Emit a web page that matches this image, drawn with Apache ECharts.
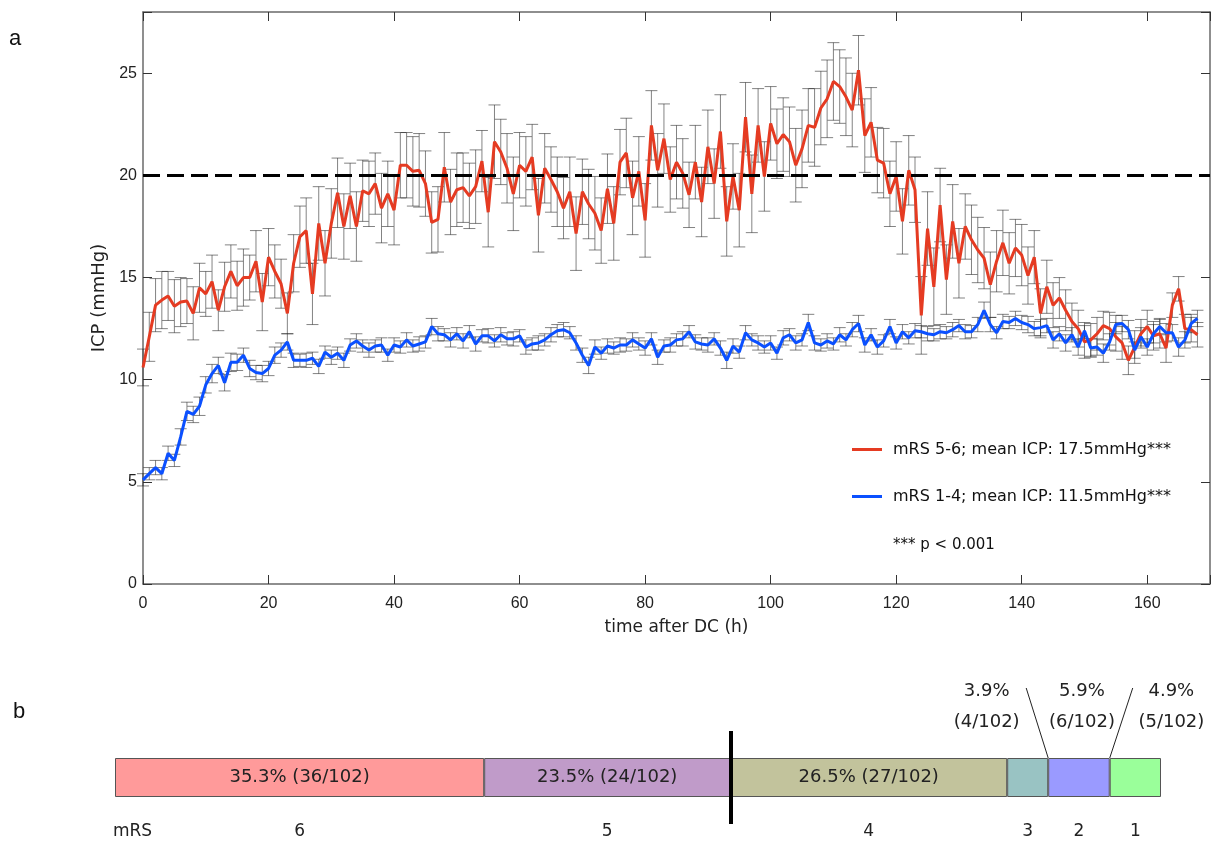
<!DOCTYPE html>
<html><head><meta charset="utf-8">
<script src="https://cdn.jsdelivr.net/npm/echarts@6/dist/echarts.min.js"></script>
<style>html,body{margin:0;padding:0;background:#fff}#c{width:1213px;height:842px}</style>
</head><body><div id="c"></div>
<script>
// ---- data (hourly means, 0..168 h after DC) ----
const redICP = [
 10.6,12.1,13.65,13.9,14.1,13.6,13.8,13.85,13.25,14.5,
 14.2,14.8,13.4,14.55,15.3,14.6,15.0,15.0,15.8,13.8,
 16.0,15.3,14.7,13.25,15.7,17.0,17.3,14.2,17.65,15.7,
 17.65,19.15,17.5,19.0,17.5,19.25,19.1,19.6,18.4,19.1,
 18.3,20.5,20.5,20.2,20.25,19.6,17.7,17.85,20.4,18.7,
 19.3,19.4,19.0,19.45,20.7,18.2,21.65,21.15,20.35,19.1,
 20.5,20.2,20.9,18.05,20.35,19.8,19.2,18.4,19.2,17.15,
 19.2,18.6,18.15,17.3,19.35,17.65,20.65,21.1,18.9,20.2,
 17.8,22.45,20.25,21.8,19.8,20.65,20.1,19.05,20.65,18.7,
 21.4,19.6,22.15,17.75,19.95,18.3,22.85,19.1,22.45,19.95,
 22.55,21.55,22.0,21.65,20.5,21.3,22.45,22.35,23.3,23.75,
 24.6,24.35,23.85,23.2,25.15,21.95,22.6,20.75,20.6,19.1,
 19.95,17.75,20.25,19.3,13.15,17.4,14.55,18.55,14.9,17.75,
 15.7,17.5,16.85,16.35,15.95,14.65,15.8,16.7,15.7,16.45,
 16.1,15.1,16.0,13.25,14.55,13.65,14.0,13.4,12.85,12.5,
 11.85,11.95,12.25,12.65,12.5,12.1,11.8,10.95,11.6,12.25,
 12.6,12.15,12.25,11.55,13.65,14.45,12.5,12.45,12.2];
const blueICP = [
 5.1,5.4,5.7,5.4,6.4,6.05,7.2,8.45,8.3,8.7,
 9.75,10.3,10.7,9.85,10.85,10.85,11.2,10.55,10.35,10.3,
 10.55,11.2,11.45,11.85,10.95,10.95,10.95,11.05,10.65,11.35,
 11.1,11.3,10.95,11.7,11.9,11.65,11.45,11.65,11.7,11.2,
 11.7,11.6,11.95,11.65,11.75,11.85,12.6,12.25,12.2,11.95,
 12.25,11.9,12.35,11.75,12.15,12.15,11.9,12.2,12.0,12.0,
 12.15,11.6,11.75,11.8,11.95,12.2,12.4,12.45,12.3,11.8,
 11.2,10.7,11.6,11.3,11.65,11.55,11.7,11.7,11.95,11.75,
 11.55,12.0,11.1,11.65,11.7,11.95,12.0,12.35,11.85,11.75,
 11.7,12.0,11.55,10.95,11.65,11.35,12.3,11.95,11.8,11.6,
 11.8,11.3,12.05,12.2,11.8,11.95,12.8,11.8,11.7,11.9,
 11.75,12.2,11.95,12.45,12.75,11.7,12.2,11.6,11.9,12.6,
 11.8,12.35,12.05,12.4,12.35,12.25,12.2,12.35,12.3,12.45,
 12.65,12.35,12.35,12.7,13.4,12.7,12.3,12.85,12.8,13.0,
 12.8,12.7,12.5,12.55,12.65,11.95,12.25,11.8,12.2,11.6,
 12.4,11.55,11.6,11.3,11.85,12.7,12.75,12.45,11.45,12.1,
 11.6,12.25,12.6,12.3,12.3,11.6,11.95,12.75,13.0];
const redErr = [
 0.9,1.2,1.3,1.4,1.2,1.3,1.2,1.1,1.3,1.2,
 1.1,1.3,1.0,1.2,1.3,1.2,1.4,1.1,1.5,1.4,
 1.4,1.3,1.2,1.0,1.4,1.5,1.6,1.5,1.8,1.6,
 1.7,1.7,1.6,1.6,1.7,1.5,1.6,1.5,1.7,1.6,
 1.7,1.6,1.6,1.7,1.8,1.6,1.5,1.6,1.7,1.6,
 1.8,1.7,1.6,1.8,1.5,1.7,1.8,1.6,1.7,1.8,
 1.6,1.7,1.6,1.8,1.7,1.6,1.7,1.5,1.7,1.8,
 1.6,1.7,1.8,1.6,1.7,1.8,1.6,1.7,1.8,1.7,
 1.8,1.7,1.8,1.7,1.6,1.8,1.7,1.6,1.8,1.7,
 1.8,1.7,1.8,1.7,1.6,1.8,1.7,1.9,1.8,1.7,
 1.8,1.7,1.8,1.7,1.8,1.9,1.8,1.9,1.8,1.9,
 1.9,1.8,1.9,1.8,1.7,1.8,1.7,1.6,1.7,1.6,
 1.7,1.6,1.7,1.6,1.9,1.8,1.9,1.8,1.7,1.8,
 1.7,1.6,1.7,1.6,1.5,1.6,1.5,1.6,1.5,1.4,
 1.5,1.4,1.3,1.2,1.3,1.1,1.0,1.0,0.9,0.9,
 0.8,0.8,0.8,0.7,0.8,0.7,0.8,0.7,0.8,0.7,
 0.8,0.7,0.7,0.7,0.6,0.6,0.7,0.6,0.6];
const blueErr = [
 0.3,0.3,0.35,0.3,0.35,0.3,0.4,0.45,0.4,0.45,
 0.4,0.45,0.4,0.4,0.45,0.4,0.35,0.4,0.35,0.4,
 0.35,0.4,0.35,0.4,0.35,0.3,0.35,0.3,0.35,0.3,
 0.35,0.3,0.35,0.3,0.35,0.3,0.35,0.3,0.35,0.3,
 0.35,0.3,0.35,0.3,0.35,0.3,0.4,0.35,0.3,0.35,
 0.3,0.35,0.3,0.35,0.3,0.35,0.3,0.35,0.3,0.35,
 0.3,0.35,0.3,0.35,0.3,0.35,0.3,0.35,0.3,0.35,
 0.35,0.4,0.35,0.3,0.35,0.3,0.35,0.3,0.35,0.3,
 0.35,0.3,0.35,0.3,0.35,0.3,0.35,0.3,0.35,0.3,
 0.35,0.3,0.35,0.4,0.35,0.3,0.35,0.3,0.35,0.3,
 0.35,0.3,0.35,0.3,0.35,0.3,0.4,0.35,0.3,0.35,
 0.3,0.35,0.3,0.35,0.4,0.35,0.3,0.35,0.3,0.35,
 0.3,0.35,0.3,0.35,0.3,0.35,0.3,0.35,0.3,0.35,
 0.3,0.35,0.3,0.35,0.4,0.35,0.3,0.35,0.3,0.35,
 0.35,0.4,0.35,0.4,0.35,0.4,0.35,0.4,0.35,0.4,
 0.4,0.45,0.4,0.45,0.4,0.45,0.4,0.45,0.4,0.45,
 0.4,0.45,0.4,0.45,0.4,0.45,0.4,0.45,0.4];
const hours = redICP.map((_, i) => i);
const xTickLabels = [0, 20, 40, 60, 80, 100, 120, 140, 160];
const yTickLabels = [0, 5, 10, 15, 20, 25];
const threshold = 20;
const seriesNames = ['mRS 5-6; mean ICP: 17.5mmHg***', 'mRS 1-4; mean ICP: 11.5mmHg***'];
const pNote = '*** p < 0.001';

const mrsScores = ['6', '5', '4', '3', '2', '1'];
const mrsCounts = [36, 24, 27, 4, 6, 5];
const mrsTotal = 102;
const mrsColors = ['#FF9A9A', '#C09BC9', '#C2C39C', '#99C3C3', '#9A9AFF', '#9AFF9A'];
const mrsSplitAfter = 2; // thick line after first two groups (mRS 6, 5)

// ---- chart ----
const chart = echarts.init(document.getElementById('c'), null, {renderer: 'canvas'});
const FONT = 'Liberation Sans';
const FONT2 = 'DejaVu Sans';
const AX = '#6a6a6a';

function errSeries(vals, errs) {
  return {
    type: 'custom', xAxisIndex: 0, yAxisIndex: 0, z: 1, silent: true,
    data: hours.map((h, i) => [h, vals[i] - errs[i], vals[i] + errs[i]]),
    encode: {x: 0, y: [1, 2]},
    renderItem(params, api) {
      const x = api.value(0);
      const lo = api.coord([x, api.value(1)]);
      const hi = api.coord([x, api.value(2)]);
      const w = 6;
      const style = {stroke: 'rgba(30,30,30,0.55)', lineWidth: 1};
      return {type: 'group', children: [
        {type: 'line', shape: {x1: lo[0], y1: lo[1], x2: hi[0], y2: hi[1]}, style},
        {type: 'line', shape: {x1: lo[0] - w, y1: lo[1], x2: lo[0] + w, y2: lo[1]}, style},
        {type: 'line', shape: {x1: hi[0] - w, y1: hi[1], x2: hi[0] + w, y2: hi[1]}, style}
      ]};
    }
  };
}

const pct = n => (n / mrsTotal * 100).toFixed(1) + '%';
const smallOffsets = {3: [-41, 0], 4: [3, 0], 5: [36, 0]};

const barSeries = mrsCounts.map((n, i) => {
  const small = i >= 3;
  const s = {
    type: 'bar', name: 'mRS ' + mrsScores[i], xAxisIndex: 2, yAxisIndex: 2, stack: 'mrs',
    barWidth: 39, data: [n], silent: true, z: 2,
    itemStyle: {color: mrsColors[i], borderColor: '#555', borderWidth: 1},
    label: small ? {
      show: true, position: 'top', distance: 20, offset: smallOffsets[i],
      formatter: pct(n) + '\n(' + n + '/' + mrsTotal + ')',
      fontSize: 18, lineHeight: 31, color: '#222', fontFamily: FONT2, align: 'center'
    } : {
      show: true, position: 'inside',
      formatter: pct(n) + ' (' + n + '/' + mrsTotal + ')',
      fontSize: 18, color: '#222', fontFamily: FONT2
    }
  };
  if (i === 0) {
    s.markLine = {
      silent: true, symbol: ['none', 'none'], label: {show: false},
      lineStyle: {color: '#000', width: 4, type: 'solid'},
      data: [{xAxis: mrsCounts.slice(0, mrsSplitAfter).reduce((a, b) => a + b, 0)}]
    };
  }
  return s;
});

const axisCommon = {
  axisLine: {show: true, onZero: false, lineStyle: {color: AX, width: 1.5}},
  axisTick: {show: true, inside: true, length: 9, lineStyle: {color: '#333', width: 1}},
  splitLine: {show: false}
};

const option = {
  animation: false,
  backgroundColor: '#fff',
  grid: [
    {left: 143, right: -3, top: 12, bottom: 258},
    {left: 115, right: 52, top: 731, height: 93}
  ],
  xAxis: [
    Object.assign({type: 'value', gridIndex: 0, position: 'bottom', min: 0, max: 170, interval: 20,
      name: 'time after DC (h)', nameLocation: 'middle', nameGap: 35,
      nameTextStyle: {fontSize: 17, color: '#222', fontFamily: FONT2},
      axisLabel: {margin: 12, fontSize: 16, color: '#222', fontFamily: FONT,
        formatter: v => xTickLabels.includes(v) ? String(v) : ''}}, axisCommon),
    Object.assign({type: 'value', gridIndex: 0, position: 'top', min: 0, max: 170, interval: 20,
      axisLabel: {show: false}}, axisCommon),
    {type: 'value', gridIndex: 1, min: 0, max: mrsTotal, show: false}
  ],
  yAxis: [
    Object.assign({type: 'value', gridIndex: 0, position: 'left', min: 0, max: 28, interval: 5,
      name: 'ICP (mmHg)', nameLocation: 'middle', nameGap: 24, nameRotate: 90,
      nameTextStyle: {fontSize: 18, color: '#222', fontFamily: FONT2},
      axisLabel: {margin: 6, fontSize: 16, color: '#222', fontFamily: FONT,
        formatter: v => yTickLabels.includes(v) ? String(v) : ''}}, axisCommon),
    Object.assign({type: 'value', gridIndex: 0, position: 'right', min: 0, max: 28, interval: 5,
      axisLabel: {show: false}}, axisCommon),
    {type: 'category', gridIndex: 1, data: ['mRS'], show: false}
  ],
  legend: {
    data: seriesNames, orient: 'vertical', left: 852, top: 441, itemGap: 30,
    icon: 'rect', itemWidth: 30, itemHeight: 3, padding: 0,
    textStyle: {fontSize: 16, color: '#111', fontFamily: FONT2, lineHeight: 17, padding: [0, 0, 0, 6]}
  },
  series: [
    errSeries(redICP, redErr),
    errSeries(blueICP, blueErr),
    {
      type: 'line', name: seriesNames[0], xAxisIndex: 0, yAxisIndex: 0, z: 3,
      data: hours.map((h, i) => [h, redICP[i]]), showSymbol: false, symbol: 'none',
      color: '#E53B22', lineStyle: {color: '#E53B22', width: 3},
      markLine: {
        silent: true, symbol: ['none', 'none'], label: {show: false},
        lineStyle: {color: '#000', width: 3, type: [17, 7]},
        data: [{yAxis: threshold}]
      }
    },
    {
      type: 'line', name: seriesNames[1], xAxisIndex: 0, yAxisIndex: 0, z: 3,
      data: hours.map((h, i) => [h, blueICP[i]]), showSymbol: false, symbol: 'none',
      color: '#0B50FF', lineStyle: {color: '#0B50FF', width: 3}
    }
  ].concat(barSeries)
};
chart.setOption(option);

// annotations positioned through the bottom grid's scales
const conv = v => chart.convertToPixel({xAxisIndex: 2, yAxisIndex: 2}, [v, 0]);
const graphics = [
  {type: 'text', left: 9, top: 28, style: {text: 'a', fontSize: 22, fill: '#111', fontFamily: FONT}},
  {type: 'text', left: 13, top: 701, style: {text: 'b', fontSize: 22, fill: '#111', fontFamily: FONT}},
  {type: 'text', left: 893, top: 538, style: {text: pNote, fontSize: 15, fill: '#111', fontFamily: FONT2}}
];
let cum = 0;
const barHalf = 19.5;
mrsCounts.forEach((n, i) => {
  const c = conv(cum + n / 2);
  graphics.push({type: 'text', x: c[0], y: c[1] + 54,
    style: {text: mrsScores[i], fontSize: 17, fill: '#222', fontFamily: FONT2, align: 'center', verticalAlign: 'middle'}});
  cum += n;
});
const c0 = conv(0);
graphics.push({type: 'text', x: c0[0] - 2, y: c0[1] + 54,
  style: {text: 'mRS', fontSize: 17, fill: '#222', fontFamily: FONT2, align: 'left', verticalAlign: 'middle'}});
// leader lines for the small groups (boundaries 3|2 and 2|1)
const b32 = conv(mrsCounts.slice(0, 4).reduce((a, b) => a + b, 0));
const b21 = conv(mrsCounts.slice(0, 5).reduce((a, b) => a + b, 0));
graphics.push({type: 'line', shape: {x1: b32[0], y1: b32[1] - barHalf, x2: b32[0] - 22, y2: b32[1] - barHalf - 70},
  style: {stroke: '#222', lineWidth: 1}});
graphics.push({type: 'line', shape: {x1: b21[0], y1: b21[1] - barHalf, x2: b21[0] + 23, y2: b21[1] - barHalf - 70},
  style: {stroke: '#222', lineWidth: 1}});
chart.setOption({graphic: graphics});
</script>
</body></html>
